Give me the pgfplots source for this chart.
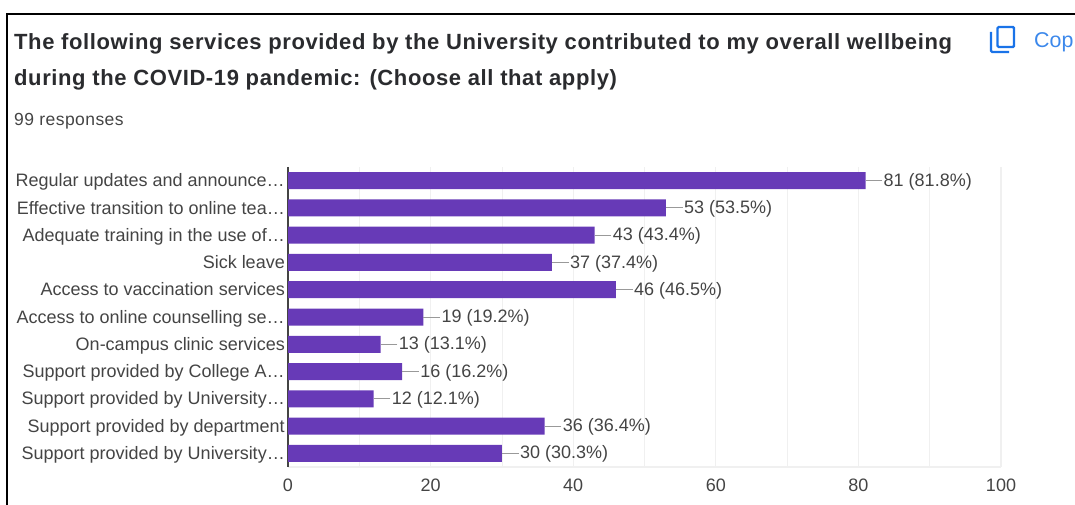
\documentclass[border=0pt]{standalone}
\usepackage{pgfplots}
\pgfplotsset{compat=1.18}
\usepackage{fontspec}
\setmainfont{Liberation Sans}
\newfontfamily\headfont[LetterSpace=2.75]{Liberation Sans}
\newfontfamily\subfont[LetterSpace=2.5]{Liberation Sans}
\definecolor{barpurple}{HTML}{673AB7}
\definecolor{titleink}{HTML}{2A2B2E}
\definecolor{bodyink}{HTML}{444444}
\definecolor{gridgrey}{HTML}{F0F0F0}
\definecolor{leader}{HTML}{999999}
\definecolor{linkblue}{HTML}{1A73E8}
\begin{document}
\begin{tikzpicture}[x=1pt,y=1pt]
  % canvas in pixel-sized units, y measured upward from the bottom edge
  \path[use as bounding box] (0,0) rectangle (1075,505);

  % card outline, running off the right and bottom edges
  \draw[black,line width=2.2pt] (7,0) -- (7,491) -- (1075,491);

  % heading block
  \node[anchor=base west,inner sep=0,text=titleink,font=\headfont\fontsize{22}{26}\selectfont\bfseries] at (14,455) {The following services provided by the University contributed to my overall wellbeing};
  \node[anchor=base west,inner sep=0,text=titleink,font=\headfont\fontsize{22}{26}\selectfont\bfseries] at (14,419) {during the COVID-19 pandemic: (Choose all that apply)};
  \node[anchor=base west,inner sep=0,text=bodyink,font=\subfont\fontsize{17.5}{20}\selectfont] at (14,379) {99 responses};

  % copy button
  \draw[linkblue,line width=2.4pt,rounded corners=1.2pt] (997.5,478) rectangle (1014,458);
  \draw[linkblue,line width=2.4pt,rounded corners=1.2pt] (991,473) -- (991,453) -- (1009,453);
  \node[anchor=base west,inner sep=0,text=linkblue!85!white,font=\fontsize{21.4}{24}\selectfont] at (1034,457) {Cop};

  \begin{axis}[
      at={(288pt,38pt)}, anchor=south west,
      scale only axis, width=713pt, height=300pt,
      xmin=0, xmax=100, ymin=-0.5, ymax=10.5,
      y dir=reverse,
      axis x line*=bottom, axis y line*=left,
      x axis line style={gridgrey,line width=1.6pt,-},
      y axis line style={bodyink,line width=1.1pt,-},
      xtick={0,20,40,60,80,100},
      minor xtick={10,30,50,70,90},
      grid=both,
      ymajorgrids=false, yminorgrids=false,
      major x grid style={gridgrey,line width=1.1pt},
      minor x grid style={gridgrey,line width=0.8pt},
      major tick length=0pt, minor tick length=0pt,
      ytick={0,...,10},
      yticklabels={Regular updates and announce…,Effective transition to online tea…,Adequate training in the use of…,Sick leave,Access to vaccination services,Access to online counselling se…,On-campus clinic services,Support provided by College A…,Support provided by University…,Support provided by department,Support provided by University…},
      tick label style={text=bodyink,font=\fontsize{18}{20}\selectfont},
      /pgf/number format/assume math mode=true,
      % equal text boxes keep every row on the same line through its bar
      yticklabel style={inner xsep=0pt,xshift=-3pt,yshift=-1.5pt,text height=13pt,text depth=3.8pt},
      xticklabel style={yshift=-8pt},
      point meta=explicit symbolic,
      nodes near coords,
      every node near coord/.append style={anchor=west,xshift=17pt,yshift=-1pt,inner sep=1pt,text=bodyink,text height=13pt,text depth=3.8pt,font=\fontsize{18}{20}\selectfont},
    ]
    \addplot[
        xbar, bar width=17pt, bar shift=0pt,
        fill=barpurple, draw=none,
        error bars/.cd, x dir=plus, x fixed=2.35,
        error mark=none,
        error bar style={leader,line width=1pt},
      ] coordinates {
        (81,0) [81 (81.8\%)]
        (53,1) [53 (53.5\%)]
        (43,2) [43 (43.4\%)]
        (37,3) [37 (37.4\%)]
        (46,4) [46 (46.5\%)]
        (19,5) [19 (19.2\%)]
        (13,6) [13 (13.1\%)]
        (16,7) [16 (16.2\%)]
        (12,8) [12 (12.1\%)]
        (36,9) [36 (36.4\%)]
        (30,10) [30 (30.3\%)]
      };
  \end{axis}
\end{tikzpicture}
\end{document}
